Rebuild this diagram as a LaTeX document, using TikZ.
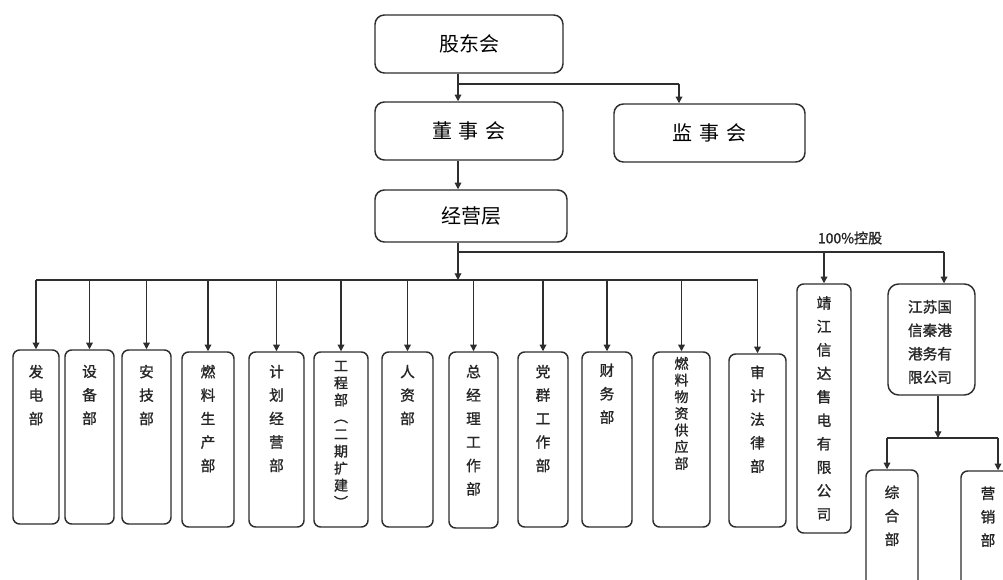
\documentclass[tikz,border=0pt]{standalone}
\usepackage{fontspec}
\newfontfamily\cjk{Noto Sans CJK SC}
\newfontfamily\cjkb[AutoFakeBold=1.2]{Noto Sans CJK SC}
\usetikzlibrary{arrows.meta}
\tikzset{
  box/.style={draw=black!82, line width=1.1pt, rounded corners=5pt, inner sep=0pt, fill=white},
  topbox/.style={box, rounded corners=7pt, font=\cjk\fontsize{15pt}{18pt}\selectfont},
  conn/.style={draw=black!82, line width=0.9pt},
  arr/.style={conn, -{Triangle[length=5pt,width=5pt]}},
  vtext/.style={font=\cjkb\bfseries\fontsize{11pt}{17.6pt}\selectfont, align=center, inner sep=0pt, anchor=north, text=black!85},
  vtight/.style={font=\cjkb\bfseries\fontsize{10.5pt}{12pt}\selectfont, align=center, inner sep=0pt, anchor=north, text=black!85},
  lbl/.style={font=\cjkb\bfseries\fontsize{10.5pt}{12pt}\selectfont, inner sep=0pt, text=black!85}
}
\newcommand\bx[6][box]{\node[#1, minimum width={(#4-#3)*0.75pt}, minimum height={(#6-#5)*0.75pt}] (#2) at ({(#3+#4)/2},{(#5+#6)/2}) {};}
\begin{document}
\begin{tikzpicture}[x=0.75pt,y=-0.75pt]
\useasboundingbox (0,0) rectangle (1003,580);
\clip (0,0) rectangle (1003,580);
\fill[white] (0,0) rectangle (1003,580);

% top boxes
\node[topbox, minimum width={188*0.75pt}, minimum height={58*0.75pt}] (gd) at (469,44) {股东会};
\node[topbox, minimum width={188*0.75pt}, minimum height={58*0.75pt}] (dsh) at (469,131) {董\hspace{5pt}事\hspace{5pt}会};
\node[topbox, minimum width={191*0.75pt}, minimum height={58*0.75pt}] (jsh) at (709.5,133) {监\hspace{5pt}事\hspace{5pt}会};
\node[topbox, minimum width={192*0.75pt}, minimum height={52*0.75pt}] (jyc) at (471,216) {经营层};

% department boxes
\bx{d1}{13}{59}{350}{524}
\bx{d2}{65}{114}{350}{524}
\bx{d3}{122}{171}{350}{524}
\bx{d4}{182}{234}{352}{527}
\bx{d5}{249}{304}{352}{527}
\bx{d6}{314}{368}{352}{527}
\bx{d7}{382}{433}{352}{527}
\bx{d8}{449}{498}{352}{528}
\bx{d9}{518}{568}{352}{527}
\bx{d10}{582}{632}{352}{527}
\bx{d11}{653}{710}{352}{527}
\bx{d12}{729}{786}{354}{527}
\bx{jj}{797}{851}{284}{533}
\bx[box, rounded corners=8pt]{js}{888}{975}{284}{395}
\bx{zh}{866}{918}{470}{600}
\bx{yx}{961}{1015}{471}{600}

% texts
\node[vtext] (t1) at ([yshift=-11.5pt]d1.north) {发\\电\\部};
\node[vtext] (t2) at ([yshift=-11.5pt]d2.north) {设\\备\\部};
\node[vtext] (t3) at ([yshift=-11.5pt]d3.north) {安\\技\\部};
\node[vtext] (t4) at ([yshift=-10pt]d4.north) {燃\\料\\生\\产\\部};
\node[vtext] (t5) at ([yshift=-10pt]d5.north) {计\\划\\经\\营\\部};
\node[vtight, font=\cjkb\bfseries\fontsize{10.5pt}{12.8pt}\selectfont] (t6) at ([yshift=-7pt]d6.north) {工\\程\\部\\︵\\二\\期\\扩\\建\\︶};
\node[vtext] (t7) at ([yshift=-10pt]d7.north) {人\\资\\部};
\node[vtext] (t8) at ([yshift=-10pt]d8.north) {总\\经\\理\\工\\作\\部};
\node[vtext] (t9) at ([yshift=-10pt]d9.north) {党\\群\\工\\作\\部};
\node[vtext] (t10) at ([yshift=-9pt]d10.north) {财\\务\\部};
\node[vtight, font=\cjkb\bfseries\fontsize{10.5pt}{12.5pt}\selectfont] (t11) at ([yshift=-4pt]d11.north) {燃\\料\\物\\资\\供\\应\\部};
\node[vtext] (t12) at ([yshift=-9pt]d12.north) {审\\计\\法\\律\\部};
\node[vtext] (t13) at ([yshift=-9.5pt]jj.north) {靖\\江\\信\\达\\售\\电\\有\\限\\公\\司};
\node[vtext] (t14) at (930,342) [anchor=center] {江苏国\\信秦港\\港务有\\限公司};
\node[vtext] (t15) at ([yshift=-12pt]zh.north) {综\\合\\部};
\node[vtext] (t16) at ([yshift=-12pt]yx.north) {营\\销\\部};

% connectors
\coordinate (sp) at (458,0);
\coordinate (h1) at (679,84);
\draw[arr] (gd.south -| sp) -- (dsh.north -| sp);
\draw[conn] (sp |- h1) -- (h1);
\draw[arr] (h1) -- (h1 |- jsh.north);
\draw[arr] (dsh.south -| sp) -- (jyc.north -| sp);

\coordinate (bus) at (0,280);
\coordinate (ub) at (944,252);
\draw[arr] (jyc.south -| sp) -- (sp |- bus);
\draw[conn] (d1.north |- bus) -- (d12.north |- bus);
\foreach \d in {d1,d2,d3,d4,d5,d6,d7,d8,d9,d10,d11,d12}{
  \draw[arr] (\d.north |- bus) -- (\d.north);
}
\draw[conn] (sp |- ub) -- (ub);
\draw[arr] (ub) -- (ub |- js.north);
\draw[arr] (jj.north |- ub) -- (jj.north);
\node[lbl] (pct) at (850,238) {100\%控股};

\coordinate (sb) at (938,438);
\coordinate (zl) at (887,438);
\coordinate (yl) at (998,438);
\draw[arr] (js.south -| sb) -- (sb);
\draw[conn] (zl) -- (yl);
\draw[arr] (zl) -- (zl |- zh.north);
\draw[arr] (yl) -- (yl |- yx.north);
\end{tikzpicture}
\end{document}
